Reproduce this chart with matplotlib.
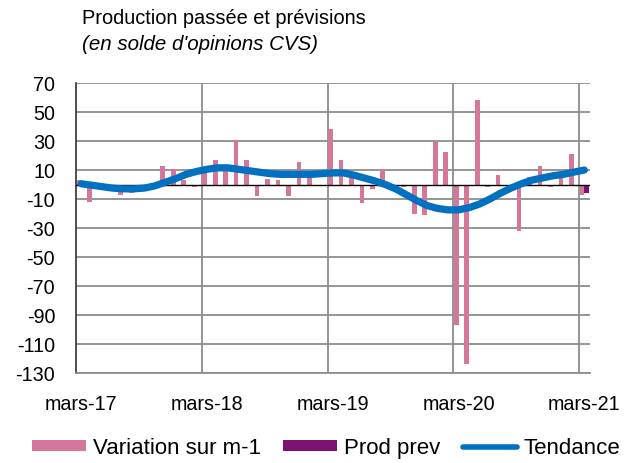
import matplotlib
matplotlib.use("Agg")
import matplotlib.pyplot as plt
import numpy as np
from matplotlib.patches import Patch
from matplotlib.lines import Line2D

plt.rcParams['font.family'] = ['Liberation Sans', 'DejaVu Sans']

months = ["mars-17", "avr-17", "mai-17", "juin-17", "juil-17", "août-17", "sept-17", "oct-17", "nov-17", "déc-17", "janv-18", "févr-18",
          "mars-18", "avr-18", "mai-18", "juin-18", "juil-18", "août-18", "sept-18", "oct-18", "nov-18", "déc-18", "janv-19", "févr-19",
          "mars-19", "avr-19", "mai-19", "juin-19", "juil-19", "août-19", "sept-19", "oct-19", "nov-19", "déc-19", "janv-20", "févr-20",
          "mars-20", "avr-20", "mai-20", "juin-20", "juil-20", "août-20", "sept-20", "oct-20", "nov-20", "déc-20", "janv-21", "févr-21",
          "mars-21"]

variation = [3, -12, -2, -1, -7, -6, -3, 1, 13, 11, 3, -1.5,
             8, 17, 9, 31, 17, -8, 4, 3, -8, 15.5, 5, 0,
             38, 17, 5, -13, -3, 11, -2, -1.5, -20, -21, 29, 22.5,
             -97, -124, 58, -1.5, 6.5, -2, -32, 5, 13, -1.5, 6, 21,
             -7]

prod_prev = [np.nan] * 48 + [-6]

tendance = [0.5, -0.5, -1.5, -2.5, -3, -3, -2.5, -1, 1.5, 4, 7, 9,
            10.5, 11.5, 11.5, 10.5, 9.5, 8.5, 7.5, 7, 7, 7, 7, 7.5,
            8, 8, 6.5, 4.5, 2.5, 0, -3, -7, -11, -14.5, -16.5, -17.5,
            -17.5, -16, -13.5, -10, -6, -2.5, 0.5, 3, 4.5, 6, 7, 8.5,
            10]

yticks = list(range(-130, 71, 20))
xtick_idx = [0, 12, 24, 36, 48]

pink = '#D5779B'
purple = '#7B1273'
blue = '#0070C0'
grid_c = '#8C8C8C'

fig = plt.figure(figsize=(6.34, 4.64), dpi=100)
ax = fig.add_axes([76/634, 1-374/464, (589.5-76)/634, (374-84)/464])

x = np.arange(len(months))
w = 0.45
ax.bar(x - 0.22, variation, width=w, color=pink, zorder=3)
ax.bar(x + 0.22, prod_prev, width=w, color=purple, zorder=3)
ax.axhline(0, color='black', lw=1.0, zorder=4)
ax.plot(x, tendance, color=blue, lw=5.2, solid_capstyle='round', solid_joinstyle='round', zorder=5)

ax.set_xlim(-0.5, len(months) - 0.5)
ax.set_ylim(-130, 70)
ax.set_yticks(yticks)
ax.set_yticklabels([str(v) for v in yticks])
ax.set_xticks(xtick_idx)
ax.set_xticklabels([months[i] for i in xtick_idx])
ax.tick_params(axis='both', length=0, labelsize=14.2)
ax.tick_params(axis='y', pad=15)
ax.tick_params(axis='x', pad=15)

for v in yticks:
    ax.axhline(v, color=grid_c, lw=1.3, zorder=1)
for i in xtick_idx[1:]:
    ax.axvline(i - 0.5, color=grid_c, lw=1.3, zorder=1)

for s in ['top', 'right']:
    ax.spines[s].set_visible(False)
ax.spines['bottom'].set_color(grid_c)
ax.spines['bottom'].set_linewidth(1.3)
ax.spines['left'].set_color('#404040')
ax.spines['left'].set_linewidth(1.3)

fig.text(82/634, 1-18/464, "Production passée et prévisions", fontsize=14.4, ha='left', va='center')
fig.text(82/634, 1-44/464, "(en solde d'opinions CVS)", fontsize=14.8, style='italic', ha='left', va='center')

handles = [Patch(facecolor=pink, edgecolor='none'),
           Patch(facecolor=purple, edgecolor='none'),
           Line2D([0], [0], color=blue, lw=4, solid_capstyle='round')]
labels = ["Variation sur m-1", "Prod prev", "Tendance"]
fig.legend(handles, labels, loc='center', bbox_to_anchor=(326/634, 1-449/464), ncol=3, frameon=False,
           fontsize=16, handlelength=2.45, handleheight=0.42, handletextpad=0.3, columnspacing=1.0,
           borderpad=0.2, borderaxespad=0)

fig.savefig("out.png", dpi=100)
